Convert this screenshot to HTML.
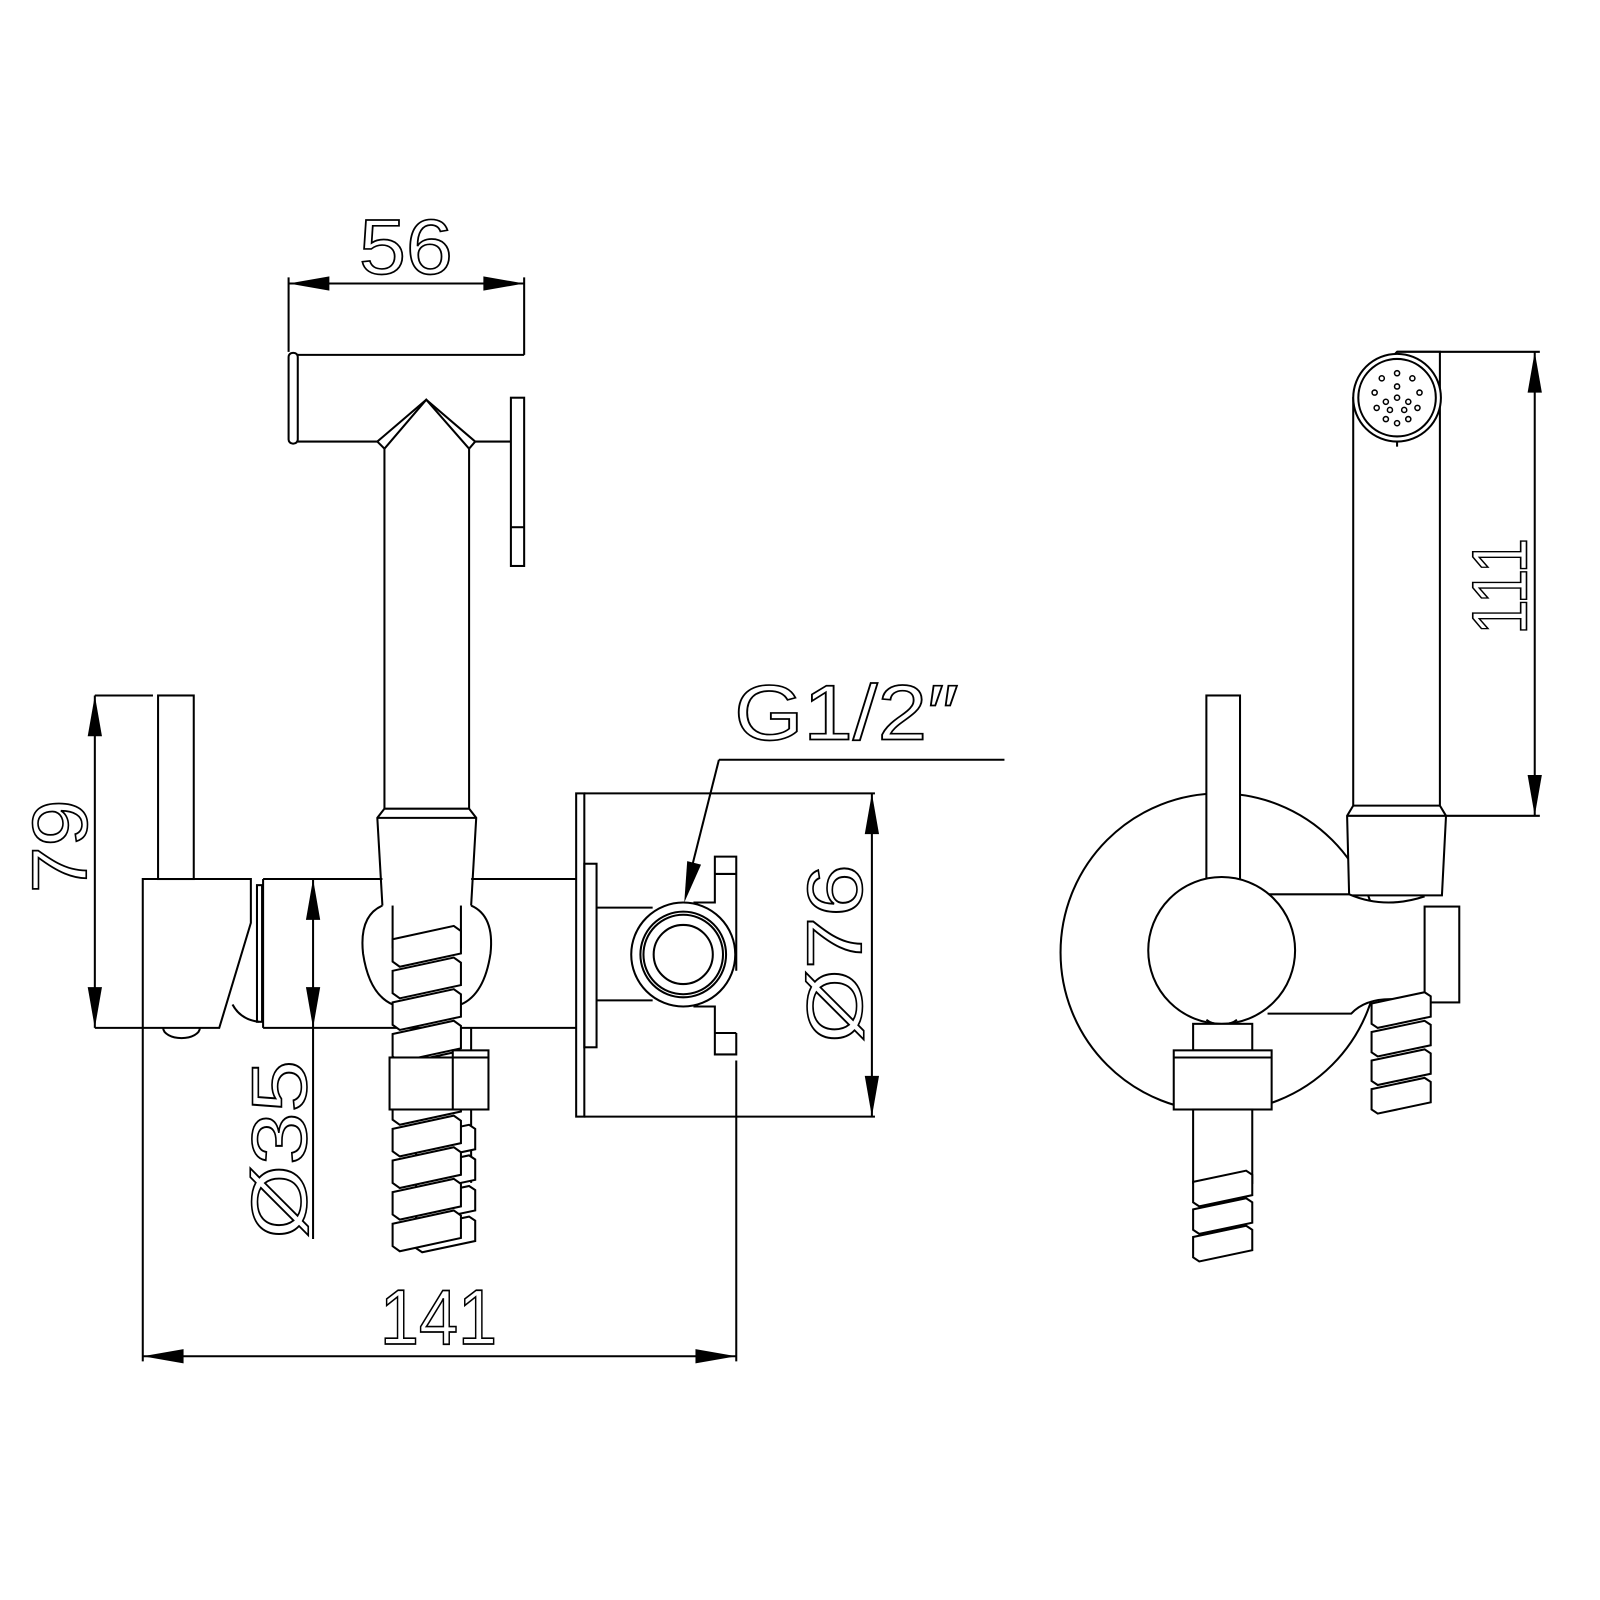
<!DOCTYPE html>
<html><head><meta charset="utf-8"><style>
html,body{margin:0;padding:0;background:#fff}
svg{display:block}
text{font-family:"Liberation Sans",sans-serif;fill:none;stroke:#000;stroke-width:1.6}
</style></head><body>
<svg id="s" width="1600" height="1600" viewBox="0 0 1569 1569" xmlns="http://www.w3.org/2000/svg">
<defs>
<polygon id="coil" points="0,16 60,3 67,8 67,30 7,43 0,38" fill="#fff" stroke="#000" stroke-width="2"/>
<polygon id="coilS" points="0,14 52,3 58,7 58,27 6,38 0,34" fill="#fff" stroke="#000" stroke-width="2"/>
<polygon id="ah" points="0,0 -7,-40 7,-40" fill="#000"/>
</defs>
<g fill="none" stroke="#000" stroke-width="2">
<line x1="283" y1="278" x2="514" y2="278"/>
<line x1="283" y1="272" x2="283" y2="345"/>
<line x1="514" y1="272" x2="514" y2="348"/>
<rect x="283" y="346" width="9" height="89" rx="4"/>
<line x1="292" y1="348" x2="514" y2="348"/>
<line x1="292" y1="433" x2="370" y2="433"/>
<polyline points="370,433 418,392 466,433"/>
<polyline points="377,440 418,392 460,440"/>
<line x1="370" y1="433" x2="377" y2="440"/>
<line x1="466" y1="433" x2="460" y2="440"/>
<line x1="466" y1="433" x2="501" y2="433"/>
<rect x="501" y="390" width="13" height="165"/>
<line x1="501" y1="517" x2="514" y2="517"/>
<line x1="377" y1="440" x2="377" y2="793"/>
<line x1="460" y1="440" x2="460" y2="793"/>
<path d="M377,793 L460,793 L467,802 L462,888 M377,793 L370,802 L375,888 M370,802 L467,802"/>
<path d="M375,888 Q352,898 356,935 Q362,975 385,985"/>
<path d="M462,888 Q485,898 481,935 Q475,975 452,985"/>
<line x1="385" y1="888" x2="385" y2="930"/>
<line x1="452" y1="888" x2="452" y2="930"/>
<rect x="155" y="682" width="35" height="180"/>
<path d="M140,862 L246,862 L246,905 L215,1008 L140,1008 Z"/>
<path d="M160,1008 A18,10 0 0 0 196,1008"/>
<path d="M228,985 Q236,1000 254,1002"/>
<rect x="252" y="868" width="5" height="134"/>
<line x1="258" y1="862" x2="258" y2="1008"/>
<line x1="258" y1="862" x2="375" y2="862"/>
<line x1="462" y1="862" x2="565" y2="862"/>
<line x1="258" y1="1008" x2="565" y2="1008"/>
<line x1="93" y1="682" x2="93" y2="1008"/>
<line x1="93" y1="682" x2="150" y2="682"/>
<line x1="93" y1="1008" x2="140" y2="1008"/>
<line x1="307" y1="862" x2="307" y2="1215"/>
<rect x="565" y="778" width="8" height="317"/>
<rect x="573" y="847" width="12" height="180"/>
<line x1="573" y1="778" x2="858" y2="778"/>
<line x1="573" y1="1095" x2="858" y2="1095"/>
<line x1="855" y1="778" x2="855" y2="1095"/>
<line x1="585" y1="890" x2="640" y2="890"/>
<line x1="585" y1="981" x2="640" y2="981"/>
<path d="M680,885 L701,885 L701,840 L722,840 L722,952"/>
<line x1="701" y1="857" x2="722" y2="857"/>
<path d="M680,987 L701,987 L701,1034 L722,1034 L722,1013"/>
<line x1="701" y1="1013" x2="722" y2="1013"/>
<circle cx="670" cy="936" r="51"/>
<circle cx="670" cy="936" r="42"/>
<circle cx="670" cy="936" r="39"/>
<circle cx="670" cy="936" r="29"/>
<line x1="722" y1="1040" x2="722" y2="1335"/>
<line x1="705" y1="745" x2="985" y2="745"/>
<line x1="705" y1="745" x2="676" y2="860"/>
<line x1="140" y1="1008" x2="140" y2="1335"/>
<line x1="140" y1="1330" x2="722" y2="1330"/>
<line x1="462" y1="1008" x2="462" y2="1160"/>

<line x1="1370" y1="345" x2="1510" y2="345"/>
<line x1="1412" y1="800" x2="1510" y2="800"/>
<line x1="1505" y1="345" x2="1505" y2="800"/>
<circle cx="1196" cy="934" r="156" fill="#fff"/>
<path d="M1327,390 L1327,790 L1321,800 L1323,878 L1414,878 L1418,800 L1412,790 L1412,345 L1370,345 Z" fill="#fff"/>
<line x1="1327" y1="790" x2="1412" y2="790"/>
<line x1="1321" y1="800" x2="1418" y2="800"/>
<circle cx="1370" cy="390" r="43" fill="#fff"/>
<circle cx="1370" cy="390" r="38"/>
<line x1="1370" y1="433" x2="1370" y2="438"/>
<rect x="1183" y="682" width="33" height="180" fill="#fff"/>
<path d="M1243,877 L1323,877 Q1358,892 1397,879 L1397,983 Q1370,978 1340,982 L1325,994 L1243,994 Z" fill="#fff" stroke="none"/>
<path d="M1243,877 L1323,877 Q1358,892 1397,879"/>
<rect x="1397" y="889" width="34" height="94" fill="#fff"/>
<path d="M1243,994 L1325,994 Q1340,978 1370,980 Q1395,982 1397,983"/>
<circle cx="1198" cy="932" r="72" fill="#fff"/>
<path d="M1183,1000 A18,10 0 0 0 1213,1000"/>
<rect x="1170" y="1004" width="58" height="26" fill="#fff"/>
<rect x="1151" y="1030" width="96" height="58" fill="#fff"/>
<line x1="1151" y1="1037" x2="1247" y2="1037"/>
<rect x="1170" y="1088" width="58" height="72" fill="#fff"/>
</g>
<g fill="#fff" stroke="#000" stroke-width="1.5" id="dots"></g>
<g id="coils"></g>
<g id="top" fill="#fff" stroke="#000" stroke-width="2">
<rect x="382" y="1037" width="97" height="51"/>
<rect x="444" y="1030" width="35" height="7"/>
<line x1="444" y1="1037" x2="444" y2="1088"/>
</g>
<use href="#ah" transform="translate(283,278) rotate(90)"/>
<use href="#ah" transform="translate(514,278) rotate(-90)"/>
<use href="#ah" transform="translate(93,682) rotate(180)"/>
<use href="#ah" transform="translate(93,1008)"/>
<use href="#ah" transform="translate(307,862) rotate(180)"/>
<use href="#ah" transform="translate(307,1008)"/>
<use href="#ah" transform="translate(855,778) rotate(180)"/>
<use href="#ah" transform="translate(855,1095)"/>
<use href="#ah" transform="translate(140,1330) rotate(90)"/>
<use href="#ah" transform="translate(722,1330) rotate(-90)"/>
<use href="#ah" transform="translate(1505,345) rotate(180)"/>
<use href="#ah" transform="translate(1505,800)"/>
<use href="#ah" transform="translate(671,885) rotate(14)"/>
<text x="398" y="268" font-size="76" text-anchor="middle" textLength="92" lengthAdjust="spacingAndGlyphs">56</text>
<text x="830" y="725" font-size="76" text-anchor="middle" textLength="220" lengthAdjust="spacingAndGlyphs">G1/2″</text>
<text x="430" y="1318" font-size="76" text-anchor="middle" textLength="115" lengthAdjust="spacingAndGlyphs">141</text>
<text transform="translate(85,830) rotate(-90)" font-size="76" text-anchor="middle" textLength="92" lengthAdjust="spacingAndGlyphs">79</text>
<text transform="translate(300,1127) rotate(-90)" font-size="76" text-anchor="middle" textLength="175" lengthAdjust="spacingAndGlyphs">Ø35</text>
<text transform="translate(845,935) rotate(-90)" font-size="76" text-anchor="middle" textLength="175" lengthAdjust="spacingAndGlyphs">Ø76</text>
<text transform="translate(1497,575) rotate(-90)" font-size="76" text-anchor="middle" textLength="95" lengthAdjust="spacingAndGlyphs">111</text>
</svg>
<script>
var NS="http://www.w3.org/2000/svg";
var c=document.getElementById("coils");
function coil(id,x,y){var u=document.createElementNS(NS,"use");u.setAttribute("href","#"+id);u.setAttribute("x",x);u.setAttribute("y",y);c.appendChild(u);}
var y;
for(y=1100;y<1210;y+=30){coil("coilS",408,y);}
for(y=905;y<1210;y+=31){coil("coil",385,y);}
for(y=970;y<1060;y+=28){coil("coilS",1345,y);}
for(y=1145;y<1210;y+=27){coil("coilS",1170,y);}
var d=document.getElementById("dots");
var pts=[[0,0],[0,-11],[-11,4],[11,4],[-7,12],[7,12],[0,-24],[-15,-19],[15,-19],[-22,-5],[22,-5],[-20,10],[20,10],[-11,21],[11,21],[0,25]];
pts.forEach(function(p){var e=document.createElementNS(NS,"circle");e.setAttribute("cx",1370+p[0]);e.setAttribute("cy",390+p[1]);e.setAttribute("r","2.5");d.appendChild(e);});
</script>
</body></html>
